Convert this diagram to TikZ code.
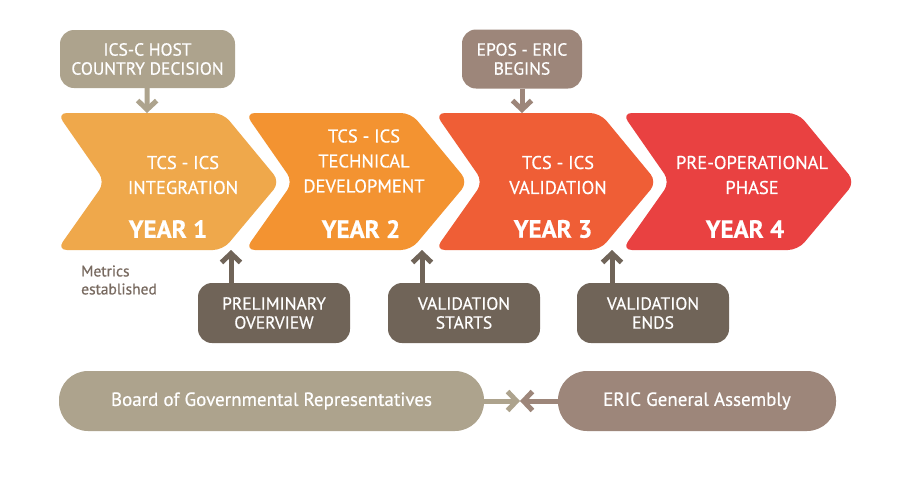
\documentclass[tikz,border=0pt]{standalone}
\usepackage{fontspec}
\setmainfont{PT Sans}[FakeBold=0.6]
\usetikzlibrary{arrows.meta, positioning}

\definecolor{yearone}{RGB}{239,168,75}
\definecolor{yeartwo}{RGB}{243,147,49}
\definecolor{yearthree}{RGB}{239,94,54}
\definecolor{yearfour}{RGB}{233,65,65}
\definecolor{hostgrey}{RGB}{173,163,141}
\definecolor{ericgrey}{RGB}{157,134,122}
\definecolor{stepbrown}{RGB}{112,100,88}
\definecolor{notegrey}{RGB}{120,106,96}

% chevron: left x, tip x, colour
\newcommand{\phasechevron}[3]{%
  \fill[#3, rounded corners=10pt] (#1,113) -- ({#2-57},113) -- (#2,182)
    -- ({#2-57},250) -- (#1,250) -- ({#1+48},182) -- cycle;}

\tikzset{
  phasetxt/.style={text=white, align=center, inner sep=0pt,
    font=\fontsize{18.5}{25}\selectfont},
  yeartxt/.style={text=white, inner sep=0pt,
    font=\bfseries\fontsize{25}{28}\selectfont},
  eventbox/.style={rounded corners=14pt, text=white, align=center, inner sep=0pt,
    font=\fontsize{17.5}{19}\selectfont},
  stepbox/.style={eventbox, fill=stepbrown, minimum width=152pt, minimum height=60pt},
  barbox/.style={rounded corners=29pt, text=white, inner sep=0pt, minimum height=60pt,
    font=\fontsize{19}{20}\selectfont},
  linkarrow/.style={line width=5pt, -{Straight Barb[length=9pt, width=19pt]}},
}

\begin{document}
\begin{tikzpicture}[x=1pt, y=-1pt]
    \useasboundingbox[fill=white] (0,0) rectangle (900,480);

    % Phases
    \phasechevron{57}{280}{yearone}
    \phasechevron{245}{468}{yeartwo}
    \phasechevron{435}{657}{yearthree}
    \phasechevron{622}{855}{yearfour}

    \node[phasetxt] (p1) at (183,175) {TCS - ICS\\INTEGRATION};
    \node[phasetxt] (p2) at (364,161) {TCS - ICS\\TECHNICAL\\DEVELOPMENT};
    \node[phasetxt] (p3) at (558,175) {TCS - ICS\\VALIDATION};
    \node[phasetxt] (p4) at (752,175) {PRE-OPERATIONAL\\PHASE};

    \node[yeartxt] (y1) at (168,229) {YEAR 1};
    \node[yeartxt] (y2) at (361,229) {YEAR 2};
    \node[yeartxt] (y3) at (553,229) {YEAR 3};
    \node[yeartxt] (y4) at (745,229) {YEAR 4};

    % Ends of the connectors on the chevrons
    \coordinate (t1) at (147,113);
    \coordinate (t3) at (522,113);
    \coordinate (b1) at (231,250);
    \coordinate (b2) at (422,250);
    \coordinate (b3) at (612,250);

    % Events above
    \node[eventbox, fill=hostgrey, minimum width=175pt, minimum height=58pt] (host) at (147.5,59) {ICS-C HOST\\COUNTRY DECISION};
    \node[eventbox, fill=ericgrey, minimum width=120pt, minimum height=59pt] (epos) at (522,59) {EPOS - ERIC\\BEGINS};
    \draw[linkarrow, hostgrey] (host) -- (t1);
    \draw[linkarrow, ericgrey] (epos) -- (t3);

    % Events below
    \node[text=notegrey, align=left, anchor=west, inner sep=0pt,
      font=\fontsize{15.5}{18}\selectfont] (metrics) at (81,280) {Metrics\\established};
    \node[stepbox] (prelim) at (274,313) {PRELIMINARY\\OVERVIEW};
    \node[stepbox] (vstart) at (464,313) {VALIDATION\\STARTS};
    \node[stepbox] (vend) at (653,313) {VALIDATION\\ENDS};
    \draw[linkarrow, stepbrown] (prelim.north -| b1) -- (b1);
    \draw[linkarrow, stepbrown] (vstart.north -| b2) -- (b2);
    \draw[linkarrow, stepbrown] (vend.north -| b3) -- (b3);

    % Governance
    \node[barbox, fill=hostgrey, minimum width=425pt] (board) at (271.5,401) {Board of Governmental Representatives};
    \node[barbox, fill=ericgrey, minimum width=278pt] (assembly) at (697,401) {ERIC General Assembly};
    \coordinate (meet) at (520,401);
    \draw[linkarrow, hostgrey] (board) -- (meet);
    \draw[linkarrow, ericgrey] (assembly) -- (meet);
\end{tikzpicture}
\end{document}
